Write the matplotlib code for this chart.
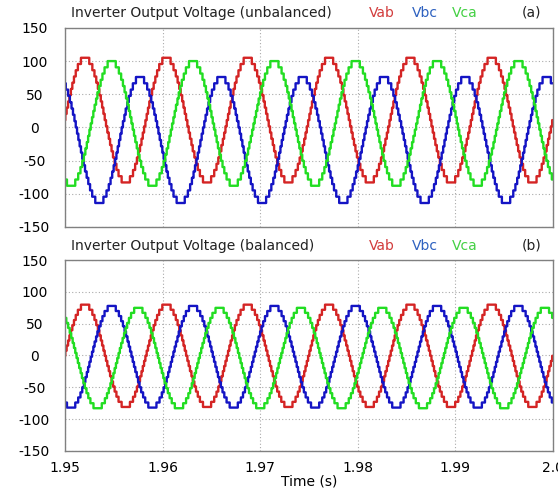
import numpy as np
import matplotlib.pyplot as plt

plt.rcParams['font.family'] = ['DejaVu Sans']
plt.rcParams['axes.unicode_minus'] = False

# values (volts / seconds)
names = ["Vab", "Vbc", "Vca"]
colors = ["#d42424", "#1414c4", "#22dd22"]
label_colors = ["#d23c3c", "#2f62c0", "#44d044"]
freq = 120.0

# (a) unbalanced
peak_a = [105, 76, 100]
trough_a = [-83, -114, -88]
tpeak_a = [1.95205, 1.95768, 1.95478]
# (b) balanced
peak_b = [80, 78, 75]
trough_b = [-81, -82, -83]
tpeak_b = [1.95205, 1.95478, 1.95750]

levels = 10  # inverter steps per half swing
yticks = [-150, -100, -50, 0, 50, 100, 150]
xticks = [1.95, 1.96, 1.97, 1.98, 1.99, 2.0]
xticklabels = ["1.95", "1.96", "1.97", "1.98", "1.99", "2.0"]

t = np.linspace(1.95, 2.0, 3000)


def staircase(pk, tr, tp):
    amp = (pk - tr) / 2
    off = (pk + tr) / 2
    c = np.cos(2 * np.pi * freq * (t - tp))
    return amp * np.round(c * levels) / levels + off


fig = plt.figure(figsize=(5.58, 4.9), dpi=100)
ax1 = fig.add_axes([0.1165, 0.537, 0.8745, 0.406])
ax2 = fig.add_axes([0.1165, 0.080, 0.8745, 0.389])

panels = [(ax1, peak_a, trough_a, tpeak_a, "Inverter Output Voltage (unbalanced)", "(a)"),
          (ax2, peak_b, trough_b, tpeak_b, "Inverter Output Voltage (balanced)", "(b)")]

for ax, pk, tr, tp, title, tag in panels:
    for i in range(3):
        ax.plot(t, staircase(pk[i], tr[i], tp[i]), color=colors[i], lw=1.7,
                drawstyle="steps-post")
    ax.set_xlim(1.95, 2.0)
    ax.set_ylim(-150, 150)
    ax.set_yticks(yticks)
    ax.set_xticks(xticks)
    ax.grid(True, color="#aaaaaa", ls=(0, (1, 2)), lw=0.8)
    ax.tick_params(length=0, labelsize=10)
    ax.tick_params(axis="y", pad=22)
    for lab in ax.get_yticklabels():
        lab.set_ha("center")
    for s in ax.spines.values():
        s.set_color("#808080")
        s.set_linewidth(1.0)
    ax.text(0.012, 1.04, title, transform=ax.transAxes, fontsize=10,
            va="bottom", ha="left", color="#222222")
    for i, x in enumerate([0.622, 0.71, 0.792]):
        ax.text(x, 1.04, names[i], transform=ax.transAxes, fontsize=10,
                va="bottom", ha="left", color=label_colors[i])
    ax.text(0.935, 1.04, tag, transform=ax.transAxes, fontsize=10,
            va="bottom", ha="left", color="#222222")

ax1.set_xticklabels([])
ax2.set_xticklabels(xticklabels)
ax2.tick_params(axis="x", pad=7)
ax2.set_xlabel("Time (s)", fontsize=10, labelpad=0)

fig.savefig("out.png", dpi=100)
